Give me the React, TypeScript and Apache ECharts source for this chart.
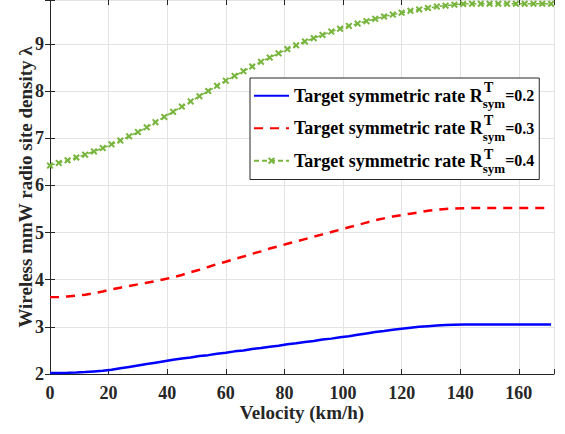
import React, { useEffect, useRef } from "react";
import * as echarts from "echarts";

const velocities = [0, 3, 6, 9, 12, 15, 18, 21, 24, 27, 30, 33, 36, 39, 42, 45, 48, 51, 54, 57, 60, 63, 66, 69, 72, 75, 78, 81, 84, 87, 90, 93, 96, 99, 102, 105, 108, 111, 114, 117, 120, 123, 126, 129, 132, 135, 138, 141, 144, 147, 150, 153, 156, 159, 162, 165, 168, 171];

const rate02 = [2.02, 2.021, 2.025, 2.03, 2.04, 2.055, 2.07, 2.09, 2.12, 2.15,
  2.18, 2.21, 2.24, 2.27, 2.30, 2.33, 2.35, 2.38, 2.40, 2.43,
  2.45, 2.48, 2.50, 2.53, 2.55, 2.58, 2.60, 2.63, 2.65, 2.68,
  2.70, 2.73, 2.75, 2.78, 2.80, 2.83, 2.86, 2.89, 2.91, 2.94,
  2.96, 2.98, 3.00, 3.015, 3.03, 3.04, 3.045, 3.05, 3.05, 3.05,
  3.05, 3.05, 3.05, 3.05, 3.05, 3.05, 3.05, 3.05];

const rate03 = [3.63, 3.635, 3.645, 3.66, 3.68, 3.71, 3.75, 3.795, 3.83, 3.865,
  3.90, 3.935, 3.97, 4.01, 4.05, 4.10, 4.16, 4.21, 4.27, 4.33,
  4.38, 4.44, 4.49, 4.55, 4.60, 4.66, 4.71, 4.76, 4.81, 4.86,
  4.91, 4.96, 5.01, 5.06, 5.11, 5.16, 5.21, 5.26, 5.30, 5.34,
  5.37, 5.40, 5.43, 5.46, 5.48, 5.50, 5.51, 5.515, 5.52, 5.52,
  5.52, 5.52, 5.52, 5.52, 5.52, 5.52, 5.52, 5.52];

const rate04 = [6.42, 6.475, 6.53, 6.59, 6.65, 6.72, 6.79, 6.87, 6.95, 7.04,
  7.13, 7.23, 7.34, 7.45, 7.56, 7.67, 7.78, 7.89, 8.00, 8.11,
  8.22, 8.32, 8.42, 8.52, 8.62, 8.71, 8.80, 8.89, 8.97, 9.05,
  9.12, 9.19, 9.26, 9.32, 9.38, 9.43, 9.48, 9.53, 9.58, 9.62,
  9.66, 9.70, 9.73, 9.76, 9.79, 9.81, 9.83, 9.845, 9.85, 9.85,
  9.85, 9.85, 9.85, 9.85, 9.85, 9.85, 9.85, 9.85];

const seriesNames = ["r02", "r03", "r04"];
const rateLabels = ["=0.2", "=0.3", "=0.4"];
const legendMain = "Target symmetric rate R";
const xAxisTitle = "Velocity (km/h)";
const yAxisTitle = "Wireless mmW radio site density \u03bb";

const FONT = "Liberation Serif";
const X_MARK = "path://M0,2 L2,0 L5,3 L8,0 L10,2 L7,5 L10,8 L8,10 L5,7 L2,10 L0,8 L3,5 Z";

export default function App() {
  const ref = useRef<HTMLDivElement>(null);
  useEffect(() => {
    if (!ref.current) return;
    const chart = echarts.init(ref.current, undefined, { renderer: "svg" });
    const pair = (ys: number[]) => velocities.map((v, i) => [v, ys[i]]);
    const axisCommon = {
      type: "value",
      axisLine: { show: true, lineStyle: { color: "#262626", width: 1 } },
      axisTick: { show: true, inside: true, length: 5, lineStyle: { color: "#262626" } },
    };
    const option: any = {
      animation: false,
      backgroundColor: "#ffffff",
      grid: { left: 50, right: 11, top: 0, bottom: 60, containLabel: false },
      xAxis: [
        {
          ...axisCommon,
          min: 0,
          max: 172,
          interval: 20,
          position: "bottom",
          name: xAxisTitle,
          nameLocation: "middle",
          nameGap: 29,
          nameMoveOverlap: false,
          nameTextStyle: { fontFamily: FONT, fontWeight: "bold", fontSize: 19, color: "#262626" },
          axisLabel: {
            fontFamily: FONT, fontWeight: "bold", fontSize: 18, color: "#262626", margin: 10,
            formatter: (v: number) => (v % 20 === 0 ? String(v) : ""),
          },
          splitLine: { show: true, lineStyle: { color: "#e3e3e3", width: 1 } },
        },
        {
          ...axisCommon,
          min: 0,
          max: 172,
          interval: 20,
          position: "top",
          axisLine: { show: false },
          axisLabel: { show: false },
          splitLine: { show: false },
        },
      ],
      yAxis: [
        {
          ...axisCommon,
          min: 2,
          max: 9.93,
          interval: 1,
          position: "left",
          name: yAxisTitle,
          nameLocation: "middle",
          nameGap: 15,
          nameMoveOverlap: false,
          nameTextStyle: { fontFamily: FONT, fontWeight: "bold", fontSize: 19, color: "#262626" },
          axisLabel: {
            fontFamily: FONT, fontWeight: "bold", fontSize: 18, color: "#262626", margin: 6,
            formatter: (v: number) => (Number.isInteger(v) ? String(v) : ""),
          },
          splitLine: { show: true, lineStyle: { color: "#e3e3e3", width: 1 } },
        },
        {
          ...axisCommon,
          min: 2,
          max: 9.93,
          interval: 1,
          position: "right",
          axisLabel: { show: false },
          splitLine: { show: false },
        },
      ],
      legend: {
        orient: "vertical",
        left: 250,
        top: 78,
        padding: [3.5, 5, 4.5, 3],
        itemGap: 4,
        itemWidth: 35,
        itemHeight: 9,
        itemTextGap: 4,
        backgroundColor: "#ffffff",
        borderColor: "#262626",
        borderWidth: 1,
        borderRadius: 0,
        data: [
          { name: seriesNames[0], itemStyle: { opacity: 0 } },
          { name: seriesNames[1], itemStyle: { opacity: 0 } },
          { name: seriesNames[2] },
        ],
        formatter: (name: string) => {
          const i = seriesNames.indexOf(name);
          return `{m|${legendMain}}{s|sym}{e|${rateLabels[i]}}`;
        },
        textStyle: {
          rich: {
            m: { fontFamily: FONT, fontWeight: "bold", fontSize: 18, color: "#000000", lineHeight: 20, padding: [4.75, 0, 4.75, 0] },
            e: { fontFamily: FONT, fontWeight: "bold", fontSize: 16, color: "#000000", lineHeight: 20, padding: [4.75, 0, 4.75, 0] },
            s: { fontFamily: FONT, fontWeight: "bold", fontSize: 13, color: "#000000", lineHeight: 14, padding: [15.5, 0, 0, 0] },
          },
        },
      },
      graphic: [0, 1, 2].map((i) => ({
        type: "text",
        left: 484,
        top: 80 + i * 33.5,
        z: 100,
        style: { text: "T", fontFamily: FONT, fontWeight: "bold", fontSize: 14, fill: "#000000" },
      })),
      series: [
        {
          name: seriesNames[0],
          type: "line",
          data: pair(rate02),
          showSymbol: false,
          symbol: "none",
          lineStyle: { color: "#0000ff", width: 2.5 },
          itemStyle: { color: "#0000ff" },
        },
        {
          name: seriesNames[1],
          type: "line",
          data: pair(rate03),
          showSymbol: false,
          symbol: "none",
          lineStyle: { color: "#ff0000", width: 2.5, type: [9, 7] },
          itemStyle: { color: "#ff0000" },
        },
        {
          name: seriesNames[2],
          type: "line",
          data: pair(rate04),
          symbol: X_MARK,
          symbolSize: 7,
          showSymbol: true,
          lineStyle: { color: "#77b53c", width: 1.5, type: [5, 3] },
          itemStyle: { color: "#77b53c" },
        },
      ],
    };
    chart.setOption(option);
    return () => chart.dispose();
  }, []);
  return (
    <div
      ref={ref}
      style={{ position: "fixed", left: 0, top: 0, width: 565, height: 434, background: "#fff" }}
    />
  );
}
